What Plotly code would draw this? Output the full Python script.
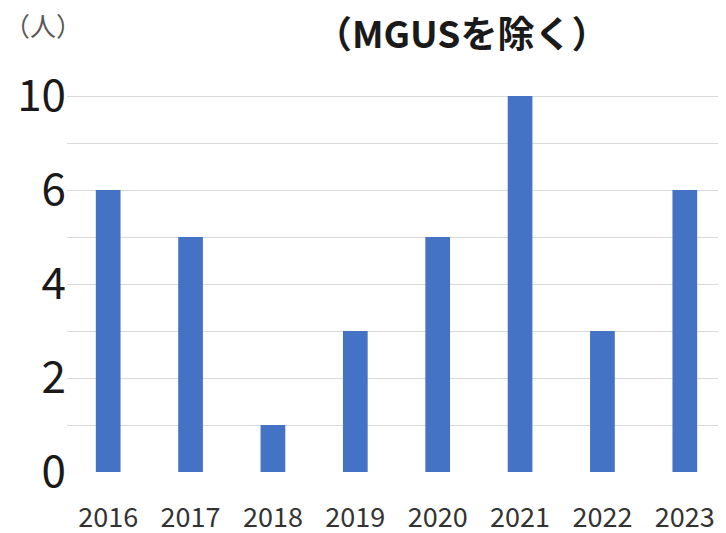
import plotly.graph_objects as go

years = ["2016", "2017", "2018", "2019", "2020", "2021", "2022", "2023"]
# bar heights measured against the evenly spaced gridlines (2021 bar sits on the gridline labelled "10")
counts = [6, 5, 1, 3, 5, 8, 3, 6]
ytick_vals = [0, 1, 2, 3, 4, 5, 6, 7, 8, 9]
ytick_text = ["0", "", "2", "", "4", "", "6", "", "10", ""]
title_text = "（MGUSを除く）"
unit_text = "（人）"

font_family = "Noto Sans CJK JP, Noto Sans, sans-serif"

# page body has an 8px default margin, so the figure is 8px smaller than the window
W, H = 718, 525
L, T, B = 59, 41, 61
PW = W - L

fig = go.Figure(go.Bar(x=years, y=counts, marker=dict(color="#4472C4", line=dict(width=0))))

fig.update_layout(
    width=W, height=H,
    margin=dict(l=L, r=0, t=T, b=B, autoexpand=False),
    paper_bgcolor="white", plot_bgcolor="white",
    bargap=0.70,
    showlegend=False,
    font=dict(family=font_family),
)
fig.update_yaxes(
    range=[0, 9], tickvals=ytick_vals, ticktext=ytick_text,
    showgrid=True, gridcolor="#d9d9d9", gridwidth=1,
    zeroline=False, showline=False, automargin=False,
    tickfont=dict(size=44, color="#1a1a1a", family=font_family),
    ticks="", ticklabelstandoff=0,
)
fig.update_xaxes(
    showgrid=False, showline=False, zeroline=False, automargin=False,
    tickfont=dict(size=27, color="#333333", family=font_family),
    ticks="outside", ticklen=22, tickcolor="rgba(0,0,0,0)",
)
fig.add_annotation(text=unit_text, xref="paper", yref="paper", x=0, y=1,
                   xshift=-L - 6, yshift=T - 16, xanchor="left", yanchor="middle", showarrow=False,
                   font=dict(size=26, color="#595959", family=font_family))
fig.add_annotation(text="<b>" + title_text + "</b>", xref="paper", yref="paper",
                   x=(461 - 8 - L) / PW, y=1, yshift=T - 24, xanchor="center", yanchor="middle",
                   showarrow=False, font=dict(size=37, color="#1a1a1a", family=font_family))

fig.write_html("out.html")
